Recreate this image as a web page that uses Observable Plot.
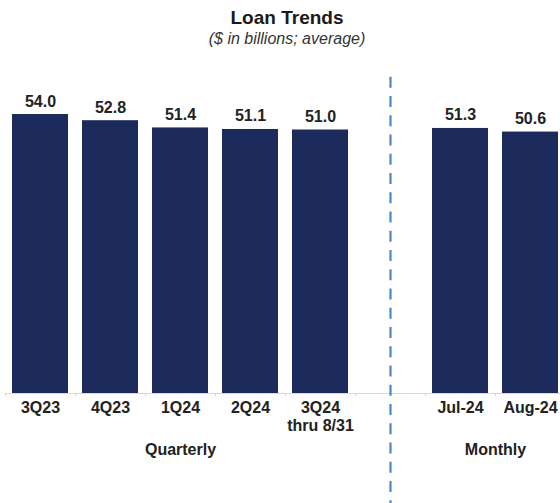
<!DOCTYPE html>
<html>
<head>
<meta charset="utf-8">
<script src="https://cdn.jsdelivr.net/npm/d3@7"></script>
<script src="https://cdn.jsdelivr.net/npm/@observablehq/plot@0.6"></script>
<style>
  html, body { margin: 0; padding: 0; background: #fff; }
  body { width: 560px; height: 503px; overflow: hidden; font-family: "Liberation Sans", Arial, sans-serif; }
  #head { height: 52px; padding-left: 14px; text-align: center; box-sizing: border-box; padding-top: 7px; }
  #title { font-size: 19px; font-weight: bold; line-height: 22px; color: #1a1a1a; }
  #subtitle { font-size: 16px; font-style: italic; line-height: 20px; color: #333; }
</style>
</head>
<body>
<div id="head">
  <div id="title">Loan Trends</div>
  <div id="subtitle">($ in billions; average)</div>
</div>
<div id="chart"></div>
<script>
const categories = ["3Q23", "4Q23", "1Q24", "2Q24", "3Q24", "gap", "Jul-24", "Aug-24"];
const tickLabels = ["3Q23", "4Q23", "1Q24", "2Q24", "3Q24\nthru 8/31", "", "Jul-24", "Aug-24"];
const values = [54.0, 52.8, 51.4, 51.1, 51.0, null, 51.3, 50.6];
const groupLabels = ["Quarterly", "Monthly"];
const groupAnchors = ["1Q24", "Jul-24"];

const bars = categories.map((c, i) => ({cat: c, value: values[i]})).filter(d => d.value != null);
const ticks = categories.map((c, i) => ({cat: c, label: tickLabels[i]}));

const barColor = "#1c2a5c";
const textColor = "#222";

const chart = Plot.plot({
  width: 560,
  height: 451,
  marginTop: 0,
  marginBottom: 110,
  marginLeft: 5,
  marginRight: 0,
  style: {fontFamily: "'Liberation Sans', Arial, sans-serif", overflow: "visible", background: "#fff"},
  x: {domain: categories, range: [5, 565], paddingInner: 0.2, paddingOuter: 0.1, axis: null},
  y: {domain: [0, 66], axis: null},
  marks: [
    Plot.ruleY([0], {stroke: "#d9d9d9", strokeWidth: 1}),
    Plot.ruleX(categories, {x: d => d, dx: -35, y1: 0, y2: -0.6, stroke: "#d9d9d9"}),
    Plot.barY(bars, {x: "cat", y: "value", fill: barColor}),
    Plot.text(bars, {x: "cat", y: "value", text: d => d.value.toFixed(1), lineAnchor: "bottom", dy: -8,
      fontSize: 16, fontWeight: "bold", fill: textColor}),
    Plot.text(ticks, {x: "cat", y: () => 0, text: "label", lineAnchor: "top", dy: 7, lineHeight: 1.125,
      fontSize: 16, fontWeight: "bold", fill: textColor}),
    Plot.text([groupLabels[0]], {x: () => groupAnchors[0], y: () => 0, text: d => d, lineAnchor: "top", dy: 50,
      fontSize: 16, fontWeight: "bold", fill: textColor}),
    Plot.text([groupLabels[1]], {x: () => groupAnchors[1], y: () => 0, text: d => d, lineAnchor: "top", dy: 50, dx: 35,
      fontSize: 16, fontWeight: "bold", fill: textColor}),
    Plot.ruleX(["gap"], {x: d => d, y1: 61.2, y2: -22, stroke: "#4a88cc", strokeWidth: 2.2, strokeDasharray: "11 8.25"})
  ]
});
document.getElementById("chart").appendChild(chart);
</script>
</body>
</html>
